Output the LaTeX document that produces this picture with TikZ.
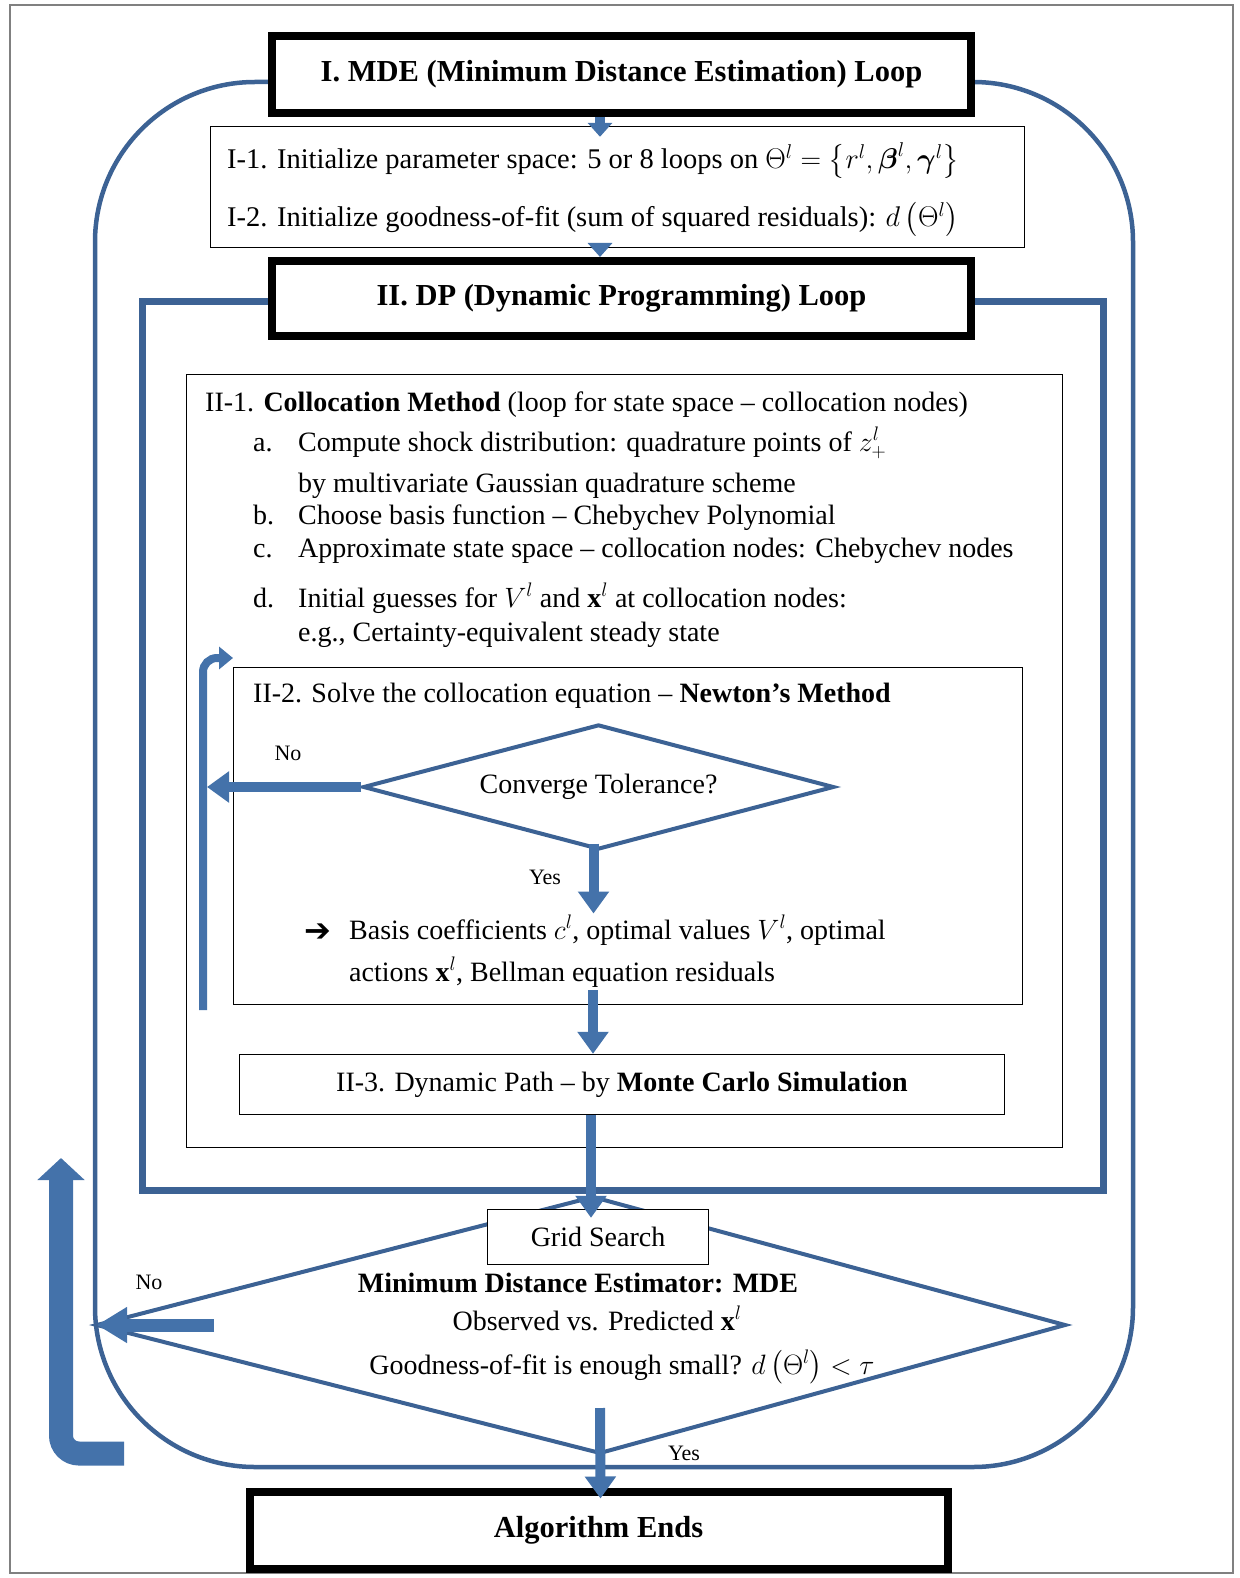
\RequirePackage{fix-cm}
\documentclass[tikz,border=0pt]{standalone}
\usepackage{amsmath}
\usepackage{amssymb}
\usepackage{fontspec}
\setmainfont{Liberation Serif}
\newfontfamily\dingfont{DejaVu Sans}
\usepackage{tikz}
\usetikzlibrary{arrows.meta, shapes.geometric, calc}
\definecolor{loopblue}{RGB}{60,98,148}
\definecolor{arrowblue}{RGB}{68,114,170}

\begin{document}
\begin{tikzpicture}[
  x=1pt, y=-1pt,
  every node/.style={font=\fontsize{28}{32}\selectfont, inner sep=0pt},
  titlebox/.style={rectangle, draw=black, line width=8pt, fill=white,
                   font=\bfseries\fontsize{30.5}{34}\selectfont},
  plainbox/.style={rectangle, draw=black, line width=1.4pt, fill=white},
  decision/.style={diamond, draw=loopblue, line width=4pt, fill=white, aspect=3.77},
  txt/.style={anchor=base west},
  lbl/.style={font=\fontsize{22}{24}\selectfont},
  loopline/.style={draw=loopblue, line width=4.5pt},
  fatarrow/.style={draw=arrowblue, line width=10pt, -{Triangle[width=30pt,length=22pt]}},
  smallarrow/.style={draw=arrowblue, line width=10pt, -{Triangle[width=24pt,length=14pt]}},
]

\useasboundingbox (0,0) rectangle (1239,1578);
\draw[gray, line width=1.2pt] (10,5) rectangle (1233,1573);

% MDE loop and DP loop
\draw[loopline, rounded corners=160pt] (95,82) rectangle (1133,1467);
\draw[draw=loopblue, line width=7pt] (142,302) rectangle (1103,1190);

% I. MDE loop
\node[titlebox, minimum width=699pt, minimum height=77pt] (mdebox) at (621.5,74.5)
  {I. MDE (Minimum Distance Estimation) Loop};
\node[plainbox, minimum width=814pt, minimum height=121pt] (init) at (617.5,187) {};
\node[txt, font=\fontsize{28.5}{32}\selectfont] (init1) at (227,169)
  {I-1. Initialize parameter space: 5 or 8 loops on $\Theta^{l}=\left\{r^{l},\boldsymbol{\beta}^{l},\boldsymbol{\gamma}^{l}\right\}$};
\node[txt, font=\fontsize{28.5}{32}\selectfont] (init2) at (227,227)
  {I-2. Initialize goodness-of-fit (sum of squared residuals): $d\left(\Theta^{l}\right)$};

% II. DP loop
\node[titlebox, minimum width=699pt, minimum height=75pt] (dpbox) at (621.5,298.5)
  {II. DP (Dynamic Programming) Loop};

% II-1 collocation
\node[plainbox, minimum width=876pt, minimum height=773pt] (colloc) at (624.5,761) {};
\node[txt] (c0) at (205,411) {II-1. \textbf{Collocation Method} (loop for state space -- collocation nodes)};
\node[txt] (ca) at (253,451) {a.};
\node[txt] (ca1) at (298,451) {Compute shock distribution: quadrature points of $z_{+}^{l}$};
\node[txt] (ca2) at (298,492) {by multivariate Gaussian quadrature scheme};
\node[txt] (cb) at (253,524) {b.};
\node[txt] (cb1) at (298,524) {Choose basis function -- Chebychev Polynomial};
\node[txt] (cc) at (253,557) {c.};
\node[txt] (cc1) at (298,557) {Approximate state space -- collocation nodes: Chebychev nodes};
\node[txt] (cd) at (253,607) {d.};
\node[txt] (cd1) at (298,607) {Initial guesses for $V^{l}$ and $\mathbf{x}^{l}$ at collocation nodes:};
\node[txt] (cd2) at (298,641) {e.g., Certainty-equivalent steady state};

% II-2 Newton
\node[plainbox, minimum width=789pt, minimum height=337pt] (newton) at (628,836) {};
\node[txt] (n0) at (253,702) {II-2. Solve the collocation equation -- \textbf{Newton’s Method}};
\node[decision, minimum width=471pt, minimum height=125pt] (conv) at (598.5,787) {Converge Tolerance?};
\node[lbl] (convno) at (288,753) {No};
\node[lbl] (convyes) at (545,877) {Yes};
\node[txt, font=\dingfont\bfseries\fontsize{32}{34}\selectfont] (res0) at (304,941) {➔};
\node[txt] (res1) at (349,939) {Basis coefficients $c^{l}$, optimal values $V^{l}$, optimal};
\node[txt] (res2) at (349,981) {actions $\mathbf{x}^{l}$, Bellman equation residuals};

% II-3 simulation
\node[plainbox, minimum width=765pt, minimum height=60pt] (simul) at (622,1084.5)
  {II-3. Dynamic Path -- by \textbf{Monte Carlo Simulation}};

% MDE decision
\coordinate (mdeL) at (97,1325);
\coordinate (mdeT) at (593,1197);
\coordinate (mdeR) at (1065,1325);
\coordinate (mdeB) at (600,1453);
\draw[loopblue, line width=4pt] (mdeL) -- (mdeT) -- (mdeR) -- (mdeB) -- cycle;
\node[plainbox, minimum width=221pt, minimum height=55pt] (grid) at (598,1237) {Grid Search};
\node[anchor=base] (mde1) at (578,1292) {\textbf{Minimum Distance Estimator: MDE}};
\node[anchor=base] (mde2) at (597,1330) {Observed vs. Predicted $\mathbf{x}^{l}$};
\node[anchor=base] (mde3) at (622,1374) {Goodness-of-fit is enough small? $d\left(\Theta^{l}\right)<\tau$};
\node[lbl] (mdeno) at (149,1282) {No};
\node[lbl] (mdeyes) at (684,1453) {Yes};

% end
\node[titlebox, minimum width=698pt, minimum height=77pt] (ends) at (598.5,1530) {Algorithm Ends};

% arrows
\coordinate (axis) at (600,0);
\coordinate (backbot) at (203,1010);
\coordinate (backtop) at (233,658);
\coordinate (lfoot) at (124,1453.5);
\coordinate (ltip) at (61,1158);

\draw[smallarrow] (mdebox.south -| axis) -- ($(init.north -| axis)+(0,11)$);
\draw[smallarrow] (init.south -| axis) -- (dpbox.north -| axis);
\draw[fatarrow] (conv.west) -- ($(conv.west -| backbot)+(4,0)$);
\draw[draw=arrowblue, line width=8pt, rounded corners=14pt, -{Triangle[width=22pt,length=14pt]}]
  (backbot) |- (backtop);
\draw[fatarrow] ($(conv.south)+(-5,-8)$) -- ($(conv.south)+(-5,62)$);
\draw[fatarrow] ($(newton.south -| axis)+(-7,-15)$) -- ($(simul.north -| axis)+(-7,0)$);
\draw[fatarrow] ($(simul.south -| axis)+(-9,0)$) -- ($(grid.north -| axis)+(-9,9)$);
\draw[draw=arrowblue, line width=13pt, -{Triangle[width=34pt,length=30pt]}]
  ($(mdeL)+(117,0)$) -- (mdeL);
\draw[draw=arrowblue, line width=24pt, rounded corners=18pt, -{Triangle[width=46pt,length=22pt]}]
  (lfoot) -| (ltip);
\draw[fatarrow] ($(mdeB)+(0,-45)$) -- ($(ends.north)+(2,11)$);

\end{tikzpicture}
\end{document}
